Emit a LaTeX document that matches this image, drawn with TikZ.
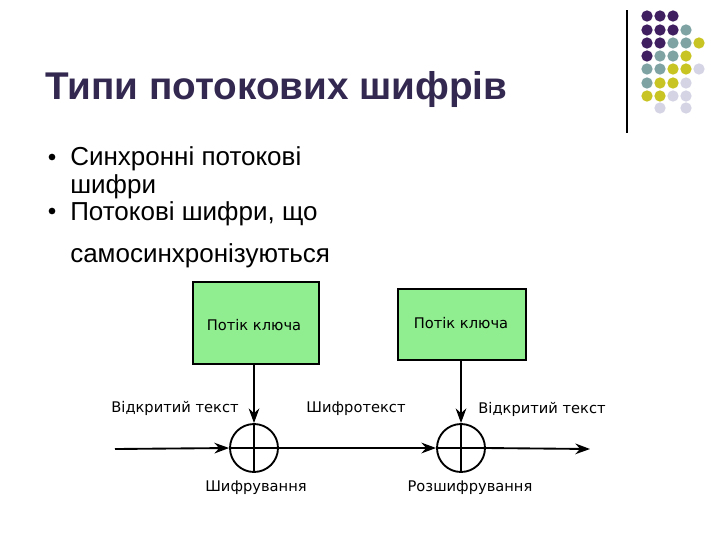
\documentclass[tikz,border=0pt]{standalone}
\usepackage{fontspec}
\setmainfont{Liberation Sans}
\newfontfamily\djvfont{DejaVu Sans}
\usetikzlibrary{arrows.meta}
\definecolor{dP}{HTML}{3F1F5F}
\definecolor{dT}{HTML}{7FA3A3}
\definecolor{dY}{HTML}{C8C424}
\definecolor{dL}{HTML}{D4D4E4}
\definecolor{boxg}{HTML}{90EE90}
\definecolor{titlec}{HTML}{33284F}
\begin{document}
\begin{tikzpicture}[x=0.75pt,y=-0.75pt,
  kbox/.style={draw,line width=1.6pt,fill=boxg,anchor=north west,inner sep=0},
  xorc/.style={draw,line width=1.4pt,circle,minimum size=36pt,inner sep=0},
  lab/.style={font=\djvfont\fontsize{11}{13}\selectfont},
  arr/.style={line width=1.4pt,-{Stealth[length=11pt,width=8pt]}},
  dot/.style={circle,inner sep=0,minimum size=8.5pt},
  bul/.style={circle,fill=black,inner sep=0,minimum size=5pt}]
\useasboundingbox (0,0) rectangle (720,540);
% dots
\draw[line width=1pt] (627,10) -- (627,133);
\foreach \x/\y/\c in {647/16/dP,660/16/dP,673/16/dP,
 647/30/dP,660/30/dP,673/30/dP,686/30/dT,
 647/43/dP,660/43/dP,673/43/dT,686/43/dT,699/43/dY,
 647/56/dP,660/56/dT,673/56/dT,686/56/dY,
 647/69/dT,660/69/dT,673/69/dY,686/69/dY,699/69/dL,
 647/83/dT,660/83/dY,673/83/dY,686/83/dL,
 647/96/dY,660/96/dY,673/96/dL,686/96/dL,
 660/108/dL,686/108/dL}
 \node[dot,fill=\c] at (\x,\y) {};
% title and bullets
\node[anchor=base west,inner sep=0,text=titlec,font=\bfseries\fontsize{29}{33}\selectfont] (title) at (45,99) {Типи потокових шифрів};
\node[bul] (b1) at (52,157) {};
\node[bul] (b2) at (52,211) {};
\node[anchor=base west,inner sep=0,font=\fontsize{19.5}{22}\selectfont] (t1) at (70,165) {Синхронні потокові};
\node[anchor=base west,inner sep=0,font=\fontsize{19.5}{22}\selectfont] (t1b) at (70,193) {шифри};
\node[anchor=base west,inner sep=0,font=\fontsize{19.5}{22}\selectfont] (t2) at (70,220) {Потокові шифри, що};
\node[anchor=base west,inner sep=0,font=\fontsize{19.5}{22}\selectfont] (t2b) at (70,262) {самосинхронізуються};
% diagram
\node[kbox,minimum width=94.5pt,minimum height=61.5pt] (k1) at (192,281) {};
\node[lab] at (254,325) {Потік ключа};
\node[kbox,minimum width=96pt,minimum height=53pt] (k2) at (397,288) {};
\node[lab] at (461,323) {Потік ключа};
\node[xorc] (x1) at (254,448) {};
\node[xorc] (x2) at (461,448) {};
\draw[line width=1.4pt] (x1.north) -- (x1.south) (x1.west) -- (x1.east);
\draw[line width=1.4pt] (x2.north) -- (x2.south) (x2.west) -- (x2.east);
\coordinate (s) at (115,449);
\coordinate (e) at (590,449);
\draw[arr] (k1.south -| x1) -- (x1.north);
\draw[arr] (k2.south -| x2) -- (x2.north);
\draw[arr] (s) -- (x1.west);
\draw[arr] (x1.east) -- (x2.west);
\draw[arr] (x2.east) -- (e);
\node[lab] at (175,408) {Відкритий текст};
\node[lab] at (356,409) {Шифротекст};
\node[lab] at (542,409) {Відкритий текст};
\node[lab] at (256,488) {Шифрування};
\node[lab] at (470,488) {Розшифрування};
\end{tikzpicture}
\end{document}
